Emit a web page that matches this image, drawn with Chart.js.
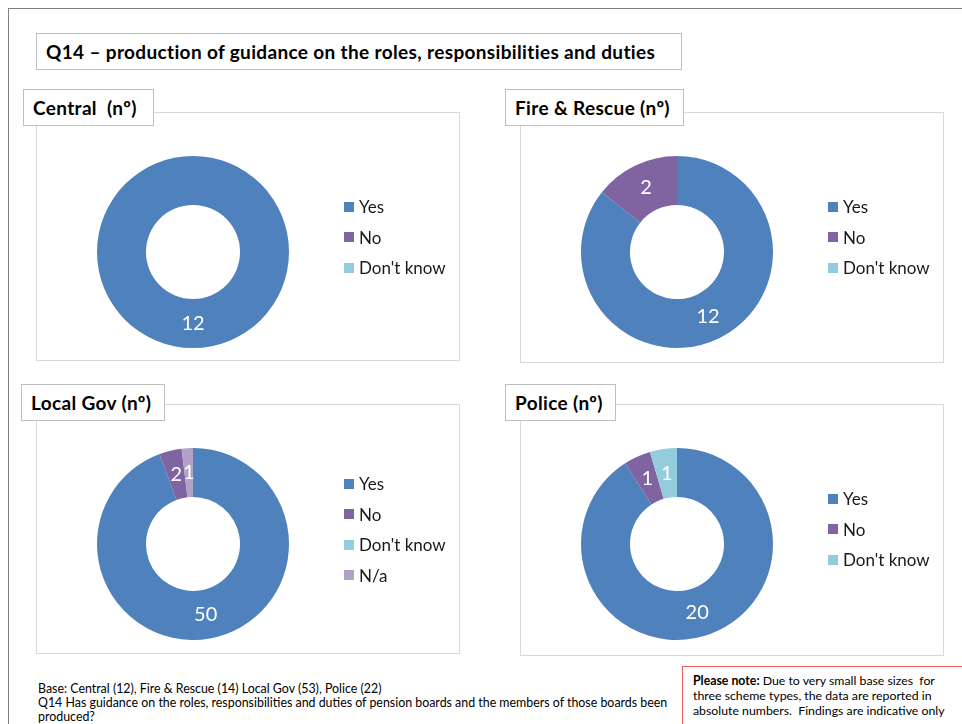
<!DOCTYPE html>
<html lang="en">
<head>
<meta charset="UTF-8">
<title>Q14 – production of guidance</title>
<script src="https://cdn.jsdelivr.net/npm/chart.js"></script>
<style>
  body { margin:0; width:962px; height:724px; overflow:hidden; background:#fff; position:relative; font-family: Lato, "Open Sans", sans-serif; color:#000; }
  .frame { position:absolute; left:8px; top:8px; width:1000px; height:800px; border-left:1px solid #7f7f7f; border-top:1px solid #7f7f7f; }
  .title { position:absolute; left:36px; top:33px; width:646px; height:37px; border:1px solid #bfbfbf; box-sizing:border-box; font-weight:bold; font-size:19px; letter-spacing:0.35px; line-height:35px; padding-left:9px; white-space:nowrap; }
  .panel { position:absolute; width:424px; height:249px; border:1px solid #d9d9d9; box-sizing:border-box; }
  canvas.pie { position:absolute; }
  .tag { position:absolute; height:37px; border:1px solid #bfbfbf; box-sizing:border-box; background:#fff; font-weight:bold; font-size:19px; letter-spacing:0.35px; line-height:35px; padding-left:9px; white-space:nowrap; }
  .foot { position:absolute; left:38px; top:682px; font-size:12.4px; line-height:14px; white-space:nowrap; }
  .note { position:absolute; left:682px; top:666px; width:300px; height:80px; border:1px solid #f06060; box-sizing:border-box; padding:6px 0 0 10px; font-size:12.3px; line-height:15px; white-space:nowrap; }
</style>
</head>
<body>
<div class="frame"></div>
<div class="title">Q14 – production of guidance on the roles, responsibilities and duties</div>

<div class="panel" style="left:36px;top:112px"></div>
<canvas class="pie" id="central" width="424" height="249" style="left:36px;top:112px"></canvas>
<div class="tag" style="left:23px;top:89px;width:131px">Central&nbsp; (nº)</div>

<div class="panel" style="left:520px;top:112px;height:251px"></div>
<canvas class="pie" id="fire" width="424" height="249" style="left:520px;top:112px"></canvas>
<div class="tag" style="left:505px;top:89px;width:179px">Fire &amp; Rescue (nº)</div>

<div class="panel" style="left:36px;top:404px;height:250px"></div>
<canvas class="pie" id="localgov" width="424" height="249" style="left:36px;top:404px"></canvas>
<div class="tag" style="left:21px;top:384px;width:144px">Local Gov (nº)</div>

<div class="panel" style="left:520px;top:404px;height:252px"></div>
<canvas class="pie" id="police" width="424" height="249" style="left:520px;top:404px"></canvas>
<div class="tag" style="left:505px;top:384px;width:111px">Police (nº)</div>

<div class="foot">Base: Central (12), Fire &amp; Rescue (14) Local Gov (53), Police (22)<br>Q14 Has guidance on the roles, responsibilities and duties of pension boards and the members of those boards been<br>produced?</div>
<div class="note"><b>Please note:</b> Due to very small base sizes&nbsp; for<br>three scheme types, the data are reported in<br>absolute numbers.&nbsp; Findings are indicative only</div>

<script>
// ---- data ----
const answers3 = ['Yes', 'No', "Don't know"];
const answers4 = ['Yes', 'No', "Don't know", 'N/a'];
const centralCounts = [12, 0, 0];
const fireCounts = [12, 2, 0];
const localGovCounts = [50, 2, 0, 1];
const policeCounts = [20, 1, 1];

const sliceColours = ['#4f81bd', '#8064a2', '#93cddd', '#b3a2c7'];

// numbers inside the ring
const sliceLabels = {
    id: 'sliceLabels',
    afterDatasetsDraw(chart) {
        const ctx = chart.ctx;
        const ds = chart.data.datasets[0];
        ctx.save();
        ctx.fillStyle = '#fff';
        ctx.font = '20px Lato, "Open Sans", sans-serif';
        ctx.textAlign = 'center';
        ctx.textBaseline = 'middle';
        chart.getDatasetMeta(0).data.forEach((arc, i) => {
            if (!ds.data[i]) return;
            const p = arc.tooltipPosition();
            ctx.fillText(ds.data[i], p.x, p.y);
        });
        ctx.restore();
    }
};

// legend to the right of the ring
const sideLegend = {
    id: 'sideLegend',
    afterDraw(chart) {
        const ctx = chart.ctx;
        const labels = chart.data.labels;
        const step = 30.5;
        let y = 125.3 - step * (labels.length - 1) / 2;
        ctx.save();
        ctx.font = '17px Lato, "Open Sans", sans-serif';
        ctx.textBaseline = 'middle';
        labels.forEach((lab, i) => {
            ctx.fillStyle = sliceColours[i];
            ctx.fillRect(308, Math.round(y) - 5, 10, 10);
            ctx.fillStyle = '#1a1a1a';
            ctx.fillText(lab, 323, y + 1);
            y += step;
        });
        ctx.restore();
    }
};

function makeDonut(id, labels, counts) {
    return new Chart(document.getElementById(id), {
        type: 'doughnut',
        data: {
            labels: labels,
            datasets: [{
                data: counts,
                backgroundColor: sliceColours.slice(0, labels.length),
                borderWidth: 0
            }]
        },
        options: {
            responsive: false,
            animation: false,
            cutout: '49%',
            layout: { padding: { left: 61, right: 171, top: 44, bottom: 13 } },
            plugins: { legend: { display: false }, tooltip: { enabled: false } }
        },
        plugins: [sliceLabels, sideLegend]
    });
}

makeDonut('central', answers3, centralCounts);
makeDonut('fire', answers3, fireCounts);
makeDonut('localgov', answers4, localGovCounts);
makeDonut('police', answers3, policeCounts);
</script>
</body>
</html>
